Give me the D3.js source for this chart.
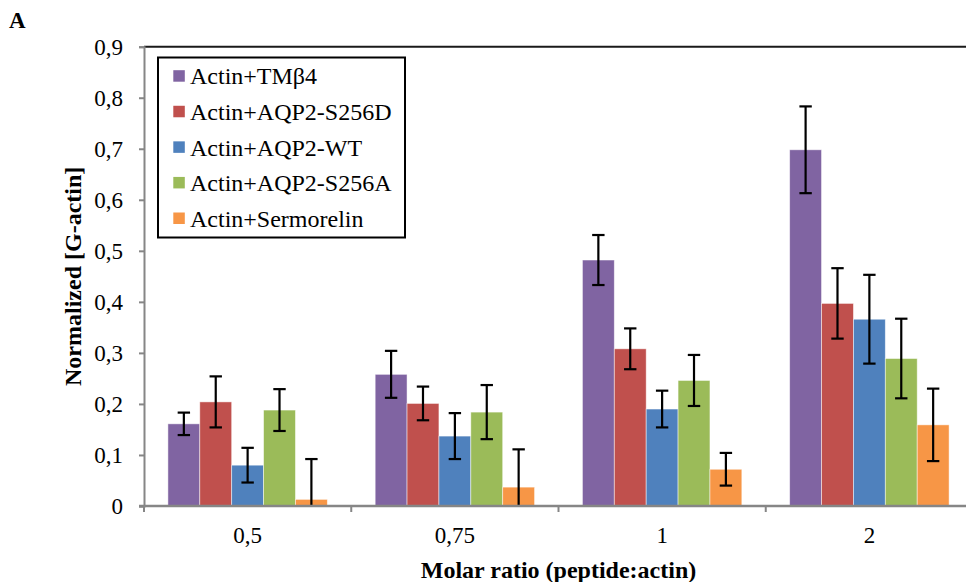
<!DOCTYPE html>
<html>
<head>
<meta charset="utf-8">
<script src="https://cdn.jsdelivr.net/npm/d3@7"></script>
<style>
  html, body { margin: 0; padding: 0; background: #fff; }
  svg { display: block; font-family: "Liberation Serif", "Times New Roman", serif; }
</style>
</head>
<body>
<svg id="chart" width="966" height="582"></svg>
<script>
// Molar ratio groups
const categories = ["0,5", "0,75", "1", "2"];

// Series names and colours
const seriesNames = ["Actin+TMβ4", "Actin+AQP2-S256D", "Actin+AQP2-WT", "Actin+AQP2-S256A", "Actin+Sermorelin"];
const seriesColors = ["#8064A2", "#C0504D", "#4F81BD", "#9BBB59", "#F79646"];

// Normalized [G-actin] means, one array per series (in category order)
const tmb4    = [0.161, 0.258, 0.482, 0.698];
const s256d   = [0.204, 0.201, 0.308, 0.397];
const wt      = [0.080, 0.137, 0.190, 0.366];
const s256a   = [0.188, 0.184, 0.246, 0.289];
const sermo   = [0.013, 0.037, 0.072, 0.159];

// Error bar half-widths
const tmb4Err  = [0.022, 0.046, 0.049, 0.085];
const s256dErr = [0.050, 0.033, 0.040, 0.069];
const wtErr    = [0.034, 0.045, 0.036, 0.087];
const s256aErr = [0.041, 0.053, 0.050, 0.078];
const sermoErr = [0.079, 0.074, 0.032, 0.071];

// Y axis tick values and labels
const yTicks = [0, 0.1, 0.2, 0.3, 0.4, 0.5, 0.6, 0.7, 0.8, 0.9];
const yTickLabels = ["0", "0,1", "0,2", "0,3", "0,4", "0,5", "0,6", "0,7", "0,8", "0,9"];

(function () {
  const seriesValues = [tmb4, s256d, wt, s256a, sermo];
  const seriesErrors = [tmb4Err, s256dErr, wtErr, s256aErr, sermoErr];

  const svg = d3.select("#chart");
  const plotLeft = 144, plotRight = 973, plotTop = 46.7, plotBottom = 506;
  const axisColor = "#868686";
  const tickFont = 23, titleFont = 24;

  const x0 = d3.scaleBand().domain(categories).range([plotLeft, plotRight]).paddingInner(0).paddingOuter(0);
  const x1 = d3.scaleBand().domain(d3.range(seriesNames.length))
    .range([0, x0.bandwidth()]).paddingInner(0).paddingOuter(0.75);
  const y = d3.scaleLinear().domain([0, 0.9]).range([plotBottom, plotTop]);

  // Flattened rows for drawing
  const rows = [];
  categories.forEach((c, ci) => {
    seriesNames.forEach((s, si) => {
      rows.push({ cat: c, si, value: seriesValues[si][ci], err: seriesErrors[si][ci] });
    });
  });

  // Bars
  svg.append("g").selectAll("rect").data(rows).join("rect")
    .attr("x", d => x0(d.cat) + x1(d.si))
    .attr("y", d => y(d.value))
    .attr("width", x1.bandwidth())
    .attr("height", d => y(0) - y(d.value))
    .attr("fill", d => seriesColors[d.si])
    .attr("stroke", "rgba(255,255,255,0.6)")
    .attr("stroke-width", 0.8);

  // Error bars (clipped at zero)
  const eb = svg.append("g").attr("stroke", "#000").attr("stroke-width", 2.2);
  const capHalf = 6.2;
  rows.forEach(d => {
    const cx = x0(d.cat) + x1(d.si) + x1.bandwidth() / 2;
    const hi = d.value + d.err, lo = d.value - d.err;
    const yHi = y(hi), yLo = y(Math.max(0, lo));
    eb.append("line").attr("x1", cx).attr("x2", cx).attr("y1", yHi).attr("y2", yLo);
    eb.append("line").attr("x1", cx - capHalf).attr("x2", cx + capHalf).attr("y1", yHi).attr("y2", yHi);
    if (lo > 0) {
      eb.append("line").attr("x1", cx - capHalf).attr("x2", cx + capHalf).attr("y1", yLo).attr("y2", yLo);
    }
  });

  // Top border of the plot area
  svg.append("line")
    .attr("x1", plotLeft).attr("x2", 966).attr("y1", plotTop).attr("y2", plotTop)
    .attr("stroke", "#1a1a1a").attr("stroke-width", 2);

  // Y axis
  const yAxis = d3.axisLeft(y).tickValues(yTicks)
    .tickFormat((d, i) => yTickLabels[i]).tickSize(5).tickPadding(16);
  const gy = svg.append("g").attr("transform", `translate(${plotLeft},0)`).call(yAxis);
  gy.select(".domain").attr("stroke", axisColor).attr("stroke-width", 2);
  gy.selectAll(".tick line").attr("stroke", axisColor).attr("stroke-width", 2);
  gy.selectAll(".tick text").attr("font-size", tickFont).attr("fill", "#000")
    .attr("font-family", "Liberation Serif");

  // X axis: baseline with boundary ticks between groups
  const gx = svg.append("g");
  gx.append("line").attr("x1", plotLeft - 5).attr("x2", 966).attr("y1", plotBottom).attr("y2", plotBottom)
    .attr("stroke", axisColor).attr("stroke-width", 2.5);
  const boundaries = categories.map(c => x0(c)).concat([x0(categories[categories.length - 1]) + x0.bandwidth()]);
  gx.selectAll("line.b").data(boundaries).join("line").attr("class", "b")
    .attr("x1", d => d).attr("x2", d => d).attr("y1", plotBottom).attr("y2", plotBottom + 6)
    .attr("stroke", axisColor).attr("stroke-width", 2);
  gx.selectAll("text").data(categories).join("text")
    .attr("x", d => x0(d) + x0.bandwidth() / 2)
    .attr("y", 543)
    .attr("text-anchor", "middle")
    .attr("font-size", tickFont)
    .text(d => d);

  // Axis titles
  svg.append("text")
    .attr("x", (plotLeft + plotRight) / 2).attr("y", 578)
    .attr("text-anchor", "middle").attr("font-size", titleFont).attr("font-weight", "bold")
    .text("Molar ratio (peptide:actin)");
  svg.append("text")
    .attr("transform", `translate(81,${(plotTop + plotBottom) / 2}) rotate(-90)`)
    .attr("text-anchor", "middle").attr("font-size", titleFont).attr("font-weight", "bold")
    .text("Normalized [G-actin]");

  // Panel letter
  svg.append("text").attr("x", 9).attr("y", 28)
    .attr("font-size", tickFont).attr("font-weight", "bold").text("A");

  // Legend
  const lg = svg.append("g");
  lg.append("rect").attr("x", 158).attr("y", 57.5).attr("width", 247).attr("height", 180)
    .attr("fill", "#fff").attr("stroke", "#000").attr("stroke-width", 2);
  const rowY = d3.scalePoint().domain(d3.range(seriesNames.length)).range([76, 218.3]);
  seriesNames.forEach((s, i) => {
    lg.append("rect").attr("x", 173.3).attr("y", rowY(i) - 5.8).attr("width", 11.5).attr("height", 11.5)
      .attr("fill", seriesColors[i]);
    lg.append("text").attr("x", 190).attr("y", rowY(i)).attr("dy", "0.35em")
      .attr("font-size", titleFont).text(s);
  });
})();
</script>
</body>
</html>
